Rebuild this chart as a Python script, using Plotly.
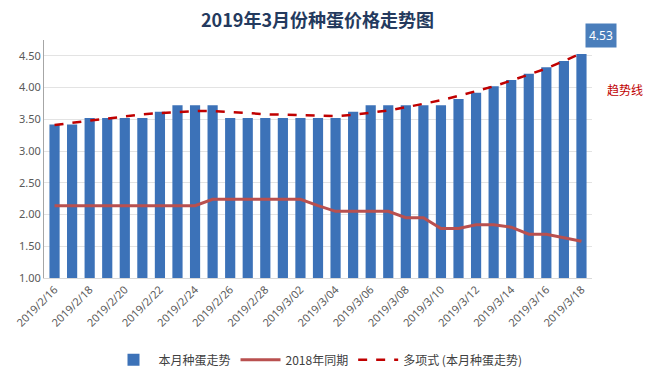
import plotly.graph_objects as go

dates = ["2019/2/16", "2019/2/17", "2019/2/18", "2019/2/19", "2019/2/20", "2019/2/21",
         "2019/2/22", "2019/2/23", "2019/2/24", "2019/2/25", "2019/2/26", "2019/2/27",
         "2019/2/28", "2019/3/01", "2019/3/02", "2019/3/03", "2019/3/04", "2019/3/05",
         "2019/3/06", "2019/3/07", "2019/3/08", "2019/3/09", "2019/3/10", "2019/3/11",
         "2019/3/12", "2019/3/13", "2019/3/14", "2019/3/15", "2019/3/16", "2019/3/17",
         "2019/3/18"]
this_month = [3.42, 3.42, 3.52, 3.52, 3.52, 3.52, 3.62, 3.72, 3.72, 3.72, 3.52, 3.52,
              3.52, 3.52, 3.52, 3.52, 3.52, 3.62, 3.72, 3.72, 3.72, 3.72, 3.72, 3.82,
              3.92, 4.02, 4.12, 4.22, 4.32, 4.42, 4.53]
last_year = [2.14, 2.14, 2.14, 2.14, 2.14, 2.14, 2.14, 2.14, 2.14, 2.24, 2.24, 2.24,
             2.24, 2.24, 2.24, 2.14, 2.05, 2.05, 2.05, 2.05, 1.95, 1.95, 1.78, 1.78,
             1.84, 1.84, 1.80, 1.69, 1.69, 1.63, 1.58]
trend = [3.41, 3.45, 3.48, 3.51, 3.55, 3.58, 3.60, 3.62, 3.63, 3.63, 3.62, 3.60,
         3.58, 3.57, 3.56, 3.55, 3.55, 3.57, 3.60, 3.64, 3.69, 3.74, 3.80, 3.87,
         3.94, 4.02, 4.11, 4.20, 4.30, 4.42, 4.54]
tick_labels = dates[::2]
y_ticks = [1.0, 1.5, 2.0, 2.5, 3.0, 3.5, 4.0, 4.5]

names = ["本月种蛋走势", "2018年同期", "多项式 (本月种蛋走势)"]
cjk = "Noto Sans CJK SC"

fig = go.Figure()
fig.add_trace(go.Bar(x=dates, y=this_month, name=names[0], width=0.58,
                     marker=dict(color="#3C72B8", line=dict(width=0))))
fig.add_trace(go.Scatter(x=dates, y=last_year, name=names[1], mode="lines",
                         line=dict(color="#B9504F", width=3)))
fig.add_trace(go.Scatter(x=dates, y=trend, name=names[2], mode="lines",
                         line=dict(color="#C00000", width=2.5, dash="dash")))

fig.add_annotation(x=dates[-1], y=this_month[-1], text="4.53", showarrow=False,
                   xanchor="left", yanchor="bottom", xshift=4, yshift=6,
                   bgcolor="#4A7EBB", font=dict(color="white", size=12, family="Noto Sans"),
                   borderpad=3)
fig.add_annotation(x=1.0, xref="paper", xanchor="left", xshift=13,
                   y=4.0, yref="y", yshift=-2, text="趋势线", showarrow=False,
                   font=dict(color="#C00000", size=12, family=cjk))

fig.update_layout(
    width=648, height=387,
    margin=dict(l=44, r=56, t=40, b=103),
    paper_bgcolor="white", plot_bgcolor="white",
    title=dict(text="<b>2019年3月份种蛋价格走势图</b>", x=0.49, xanchor="center",
               y=0.946, yanchor="middle",
               font=dict(family=cjk, size=18, color="#243A5E")),
    bargap=0.4,
    showlegend=True,
    legend=dict(orientation="h", x=0.5, xanchor="center", y=-0.344, yanchor="middle",
                font=dict(family=cjk, size=12, color="#404040"),
                itemwidth=40, traceorder="normal"),
    xaxis=dict(type="category", tickmode="array", tickvals=tick_labels, ticktext=tick_labels,
               tickangle=-45, tickfont=dict(family="Noto Sans", size=11, color="#595959"),
               showgrid=False, showline=True, linecolor="#D9D9D9", ticks="",
               range=[-0.6, 30.6], automargin=False),
    yaxis=dict(range=[1.0, 4.75], tickvals=y_ticks, tickformat=".2f",
               tickfont=dict(family="Noto Sans", size=11, color="#595959"),
               showgrid=True, gridcolor="#E3E3E3", showline=True, linecolor="#A6A6A6",
               zeroline=False, ticks="", automargin=False),
)

fig.write_html("out.html", config={"displayModeBar": False},
               post_script="document.body.style.margin='0';")
